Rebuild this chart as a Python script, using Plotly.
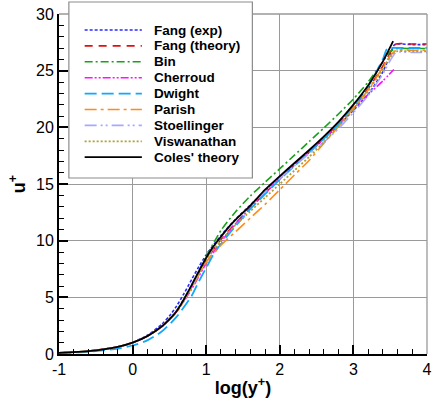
import plotly.graph_objects as go

# ---------------- data ----------------
x_coles = [-1.0, -0.8, -0.6, -0.4, -0.2, 0.0, 0.2, 0.4, 0.5, 0.6, 0.7, 0.8, 0.9, 1.0, 1.1, 1.2, 1.3, 1.4, 1.6, 1.8,
           2.0, 2.2, 2.4, 2.6, 2.8, 3.0, 3.2, 3.4, 3.54]
u_coles = [0.10, 0.16, 0.25, 0.40, 0.63, 1.00, 1.58, 2.45, 3.05, 3.80, 4.85, 6.05, 7.30, 8.50, 9.50, 10.35, 11.15, 11.85,
           13.10, 14.50, 15.70, 16.85, 18.00, 19.20, 20.50, 22.00, 23.70, 25.80, 27.60]

x_fang_exp = [-1.0, -0.8, -0.6, -0.4, -0.2, 0.0, 0.2, 0.4, 0.5, 0.6, 0.7, 0.8, 0.9, 1.0, 1.2, 1.4, 1.6, 1.8, 2.0, 2.2,
              2.4, 2.6, 2.8, 3.0, 3.2, 3.4, 3.5, 3.56, 3.8, 4.0]
u_fang_exp = [0.10, 0.16, 0.25, 0.40, 0.64, 1.02, 1.65, 2.65, 3.35, 4.25, 5.35, 6.55, 7.70, 8.75, 10.45, 11.90, 13.15,
              14.40, 15.60, 16.70, 17.80, 19.00, 20.20, 21.50, 22.90, 24.90, 26.40, 27.30, 27.30, 27.30]

x_fang_th = [-1.0, -0.6, -0.2, 0.0, 0.2, 0.4, 0.6, 0.8, 1.0, 1.2, 1.4, 1.6, 1.8, 2.0, 2.2, 2.4, 2.6, 2.8, 3.0, 3.2,
             3.4, 3.5, 3.58, 3.8, 4.0]
u_fang_th = [0.10, 0.25, 0.63, 1.00, 1.58, 2.45, 3.80, 5.95, 8.30, 10.10, 11.55, 12.90, 14.20, 15.45, 16.65, 17.85,
             19.05, 20.35, 21.80, 23.40, 25.40, 26.60, 27.35, 27.35, 27.35]

x_bin = [-1.0, -0.6, -0.2, 0.0, 0.2, 0.4, 0.6, 0.8, 1.0, 1.2, 1.4, 1.6, 1.8, 2.0, 2.2, 2.4, 2.6, 2.8, 3.0, 3.2,
         3.4, 3.5, 3.6, 3.8, 4.0]
u_bin = [0.10, 0.25, 0.63, 1.00, 1.58, 2.45, 3.85, 6.05, 8.60, 10.90, 12.55, 13.95, 15.15, 16.35, 17.55, 18.75,
         19.95, 21.20, 22.50, 24.00, 25.80, 26.70, 26.95, 26.95, 26.95]

x_cherroud = [-1.0, -0.6, -0.2, 0.0, 0.2, 0.4, 0.6, 0.8, 1.0, 1.2, 1.4, 1.6, 1.8, 2.0, 2.2, 2.4, 2.6, 2.8, 3.0, 3.2,
              3.4, 3.55]
u_cherroud = [0.10, 0.25, 0.63, 1.00, 1.58, 2.45, 3.75, 5.70, 8.00, 9.90, 11.50, 12.90, 14.20, 15.50, 16.70, 17.85,
              19.00, 20.30, 21.70, 22.90, 24.10, 25.10]

x_dwight = [-1.0, -0.6, -0.2, 0.0, 0.2, 0.4, 0.6, 0.8, 0.9, 1.0, 1.1, 1.2, 1.4, 1.6, 1.8, 2.0, 2.2, 2.4, 2.6, 2.8,
            3.0, 3.2, 3.4, 3.46, 3.6, 3.8, 4.0]
u_dwight = [0.08, 0.20, 0.48, 0.75, 1.20, 2.00, 3.30, 5.10, 6.40, 7.60, 8.80, 9.70, 11.30, 12.80, 14.10, 15.40,
            16.60, 17.80, 19.00, 20.30, 21.80, 23.60, 26.00, 26.95, 27.00, 27.00, 27.00]

x_parish = [-1.0, -0.6, -0.2, 0.0, 0.2, 0.4, 0.6, 0.8, 1.0, 1.2, 1.4, 1.6, 1.8, 2.0, 2.2, 2.4, 2.6, 2.8, 3.0, 3.2,
            3.4, 3.5, 3.58, 3.8, 4.0]
u_parish = [0.10, 0.25, 0.63, 1.00, 1.58, 2.40, 3.70, 5.80, 8.10, 9.60, 10.80, 12.00, 13.20, 14.50, 15.80, 17.10,
            18.60, 20.10, 21.70, 23.30, 25.30, 26.30, 26.80, 26.80, 26.80]

x_stoell = [-1.0, -0.6, -0.2, 0.0, 0.2, 0.4, 0.6, 0.8, 1.0, 1.2, 1.4, 1.6, 1.8, 2.0, 2.2, 2.4, 2.6, 2.8, 3.0, 3.2,
            3.4, 3.5, 3.58, 3.8, 4.0]
u_stoell = [0.10, 0.25, 0.63, 1.00, 1.58, 2.45, 3.80, 5.90, 8.40, 10.30, 11.80, 13.10, 14.30, 15.50, 16.60, 17.70,
            18.70, 19.90, 21.30, 22.80, 24.70, 25.90, 26.60, 26.60, 26.60]

x_visw = [-1.0, -0.6, -0.2, 0.0, 0.2, 0.4, 0.6, 0.8, 1.0, 1.2, 1.4, 1.6, 1.8, 2.0, 2.2, 2.4, 2.6, 2.8, 3.0, 3.2,
          3.4, 3.5, 3.58, 3.8, 4.0]
u_visw = [0.10, 0.25, 0.63, 1.00, 1.58, 2.45, 3.80, 5.90, 8.30, 10.00, 11.40, 12.60, 13.80, 15.00, 16.20, 17.40,
          18.70, 20.10, 21.60, 23.20, 25.20, 26.20, 26.70, 26.70, 26.70]

series_names = ["Fang (exp)", "Fang (theory)", "Bin", "Cherroud", "Dwight", "Parish",
                "Stoellinger", "Viswanathan", "Coles' theory"]
series_x = [x_fang_exp, x_fang_th, x_bin, x_cherroud, x_dwight, x_parish, x_stoell, x_visw, x_coles]
series_u = [u_fang_exp, u_fang_th, u_bin, u_cherroud, u_dwight, u_parish, u_stoell, u_visw, u_coles]

x_ticks = [-1, 0, 1, 2, 3, 4]
y_ticks = [0, 5, 10, 15, 20, 25, 30]

# ---------------- styles ----------------
colors = ["#2a2aff", "#e01010", "#1aa01a", "#ff10ff", "#10a8ff", "#ff8c1a", "#a8a8ff", "#b0a030", "#000000"]
dashes = ["3px,2px", "8px,6px", "8px,3px,2px,3px", "8px,2px,2px,2px,2px,2px", "12px,5px",
          "12px,4px,3px,4px", "12px,4px,2px,3px,2px,4px", "2px,2px", "solid"]
widths = [1.6, 1.6, 1.6, 1.6, 1.8, 1.6, 1.6, 1.8, 1.8]

fig = go.Figure()
for name, xs, us, c, d, w in zip(series_names, series_x, series_u, colors, dashes, widths):
    fig.add_trace(go.Scatter(x=xs, y=us, mode="lines", name=name, showlegend=False,
                             line=dict(color=c, dash=d, width=w, shape="spline", smoothing=0.6)))

# ---------------- plot geometry ----------------
L, R, T, B = 59, 3, 14, 48
W, H = 435, 402
pw, ph = W - L - R, H - T - B


def px_to_paper_x(px):
    return (px - L) / pw


def py_to_paper_y(py):
    return (H - B - py) / ph


shapes = []
# gray top & right frame
shapes.append(dict(type="line", xref="paper", yref="paper", x0=0, x1=1, y0=1, y1=1,
                   line=dict(color="#999999", width=1.3)))
shapes.append(dict(type="line", xref="paper", yref="paper", x0=1, x1=1, y0=0, y1=1,
                   line=dict(color="#999999", width=1.3)))

# legend box (drawn manually to match the long line samples)
shapes.append(dict(type="rect", xref="paper", yref="paper",
                   x0=px_to_paper_x(69), x1=px_to_paper_x(255),
                   y0=py_to_paper_y(178), y1=py_to_paper_y(2),
                   fillcolor="white", line=dict(color="#8c8c8c", width=1.2), layer="above"))
annotations = []
for i, (name, c, d, w) in enumerate(zip(series_names, colors, dashes, widths)):
    py = 30 + 15.9 * i
    shapes.append(dict(type="line", xref="paper", yref="paper",
                       x0=px_to_paper_x(85), x1=px_to_paper_x(143),
                       y0=py_to_paper_y(py), y1=py_to_paper_y(py),
                       line=dict(color=c, dash=d, width=w), layer="above"))
    annotations.append(dict(xref="paper", yref="paper", x=px_to_paper_x(153), y=py_to_paper_y(py),
                            text="<b>%s</b>" % name, showarrow=False, xanchor="left", yanchor="middle",
                            font=dict(family="Liberation Sans, Arial", size=13.5, color="black")))

axis_common = dict(
    showline=True, linecolor="black", linewidth=2, mirror=False,
    showgrid=True, gridcolor="#9a9a9a", gridwidth=1, zeroline=False,
    ticks="inside", ticklen=9, tickwidth=2, tickcolor="black",
    ticklabeloverflow="allow",
    tickfont=dict(family="Liberation Sans, Arial", size=16, color="black"),
)

fig.update_layout(
    width=W, height=H,
    margin=dict(l=L, r=R, t=T, b=B, pad=0),
    paper_bgcolor="white", plot_bgcolor="white",
    showlegend=False,
    shapes=shapes, annotations=annotations,
    xaxis=dict(range=[-1, 4], tickvals=x_ticks, ticktext=[str(v) for v in x_ticks],
               minor=dict(ticks="inside", ticklen=5, tickwidth=1, tickcolor="black", dtick=0.2, showgrid=False),
               title=dict(text="<b>log(y<sup>+</sup>)</b>", standoff=4,
                          font=dict(family="Liberation Sans, Arial", size=18, color="black")),
               **axis_common),
    yaxis=dict(range=[0, 30], tickvals=y_ticks, ticktext=[str(v) for v in y_ticks],
               minor=dict(ticks="inside", ticklen=5, tickwidth=1, tickcolor="black", dtick=1, showgrid=False),
               title=dict(text="<b>u<sup>+</sup></b>", standoff=6,
                          font=dict(family="Liberation Sans, Arial", size=18, color="black")),
               **axis_common),
)

fig.write_html("out.html", config={"displayModeBar": False},
               post_script="document.body.style.margin='0px';document.body.style.overflow='hidden';")
